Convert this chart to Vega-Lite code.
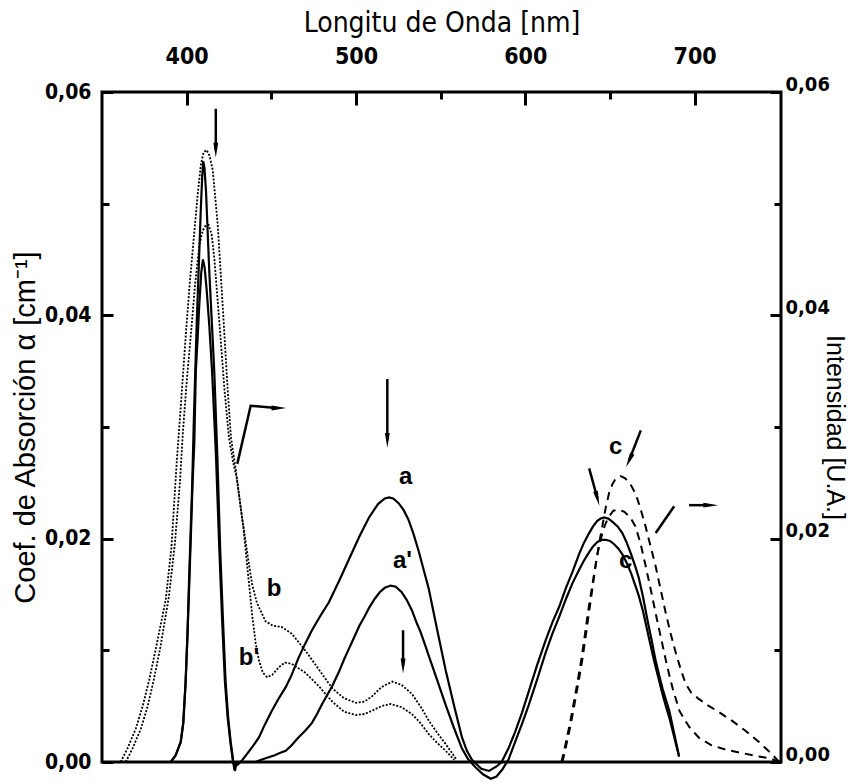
{
  "$schema": "https://vega.github.io/schema/vega-lite/v6.json",
  "width": 679,
  "height": 670,
  "autosize": "none",
  "padding": {"left": 102, "top": 92, "right": 76, "bottom": 21},
  "background": "white",
  "config": {
    "view": {"stroke": "black", "strokeWidth": 3},
    "axis": {"grid": false, "domain": false, "ticks": true, "labelFlush": false, "labelOverlap": false, "tickColor": "black", "tickWidth": 3, "labelColor": "black", "titleColor": "black"}
  },
  "datasets": {
    "curves": [
      {"s":"p1","nm":390.6,"v":0},{"s":"p1","nm":393.5,"v":0.0006},{"s":"p1","nm":396.5,"v":0.0018},{"s":"p1","nm":398,"v":0.0035},{"s":"p1","nm":399.4,"v":0.0072},{"s":"p1","nm":400.5,"v":0.0115},{"s":"p1","nm":401.4,"v":0.0162},{"s":"p1","nm":403.3,"v":0.025},{"s":"p1","nm":404.3,"v":0.031},{"s":"p1","nm":406.1,"v":0.04},{"s":"p1","nm":407.3,"v":0.045},{"s":"p1","nm":408.4,"v":0.0497},{"s":"p1","nm":409.2,"v":0.0525},{"s":"p1","nm":409.8,"v":0.0538},{"s":"p1","nm":410.5,"v":0.0532},{"s":"p1","nm":411.4,"v":0.0512},{"s":"p1","nm":413.4,"v":0.0438},{"s":"p1","nm":416.3,"v":0.035},{"s":"p1","nm":418.2,"v":0.027},{"s":"p1","nm":419.8,"v":0.019},{"s":"p1","nm":421.5,"v":0.0125},{"s":"p1","nm":423,"v":0.0072},{"s":"p1","nm":424.5,"v":0.004},{"s":"p1","nm":426,"v":0.0018},{"s":"p1","nm":427.5,"v":0.0001},{"s":"p1","nm":428.5,"v":-0.0008},{"s":"p1","nm":429.5,"v":0},
      {"s":"p2","nm":390.6,"v":0},{"s":"p2","nm":393.5,"v":0.0006},{"s":"p2","nm":396.5,"v":0.0018},{"s":"p2","nm":398,"v":0.0035},{"s":"p2","nm":399.4,"v":0.0072},{"s":"p2","nm":400.5,"v":0.0115},{"s":"p2","nm":401.6,"v":0.0162},{"s":"p2","nm":403.5,"v":0.025},{"s":"p2","nm":404.5,"v":0.0285},{"s":"p2","nm":405.4,"v":0.035},{"s":"p2","nm":406.5,"v":0.038},{"s":"p2","nm":407.4,"v":0.0408},{"s":"p2","nm":408.6,"v":0.0438},{"s":"p2","nm":409.6,"v":0.045},{"s":"p2","nm":410.6,"v":0.0443},{"s":"p2","nm":411.8,"v":0.0423},{"s":"p2","nm":413.4,"v":0.039},{"s":"p2","nm":415,"v":0.035},{"s":"p2","nm":417.3,"v":0.0275},{"s":"p2","nm":419.3,"v":0.019},{"s":"p2","nm":421,"v":0.0125},{"s":"p2","nm":422.6,"v":0.0072},{"s":"p2","nm":424.2,"v":0.004},{"s":"p2","nm":425.8,"v":0.0018},{"s":"p2","nm":427.3,"v":0.0001},{"s":"p2","nm":428.3,"v":-0.0007},{"s":"p2","nm":429.3,"v":0},
      {"s":"b","nm":361,"v":0},{"s":"b","nm":365,"v":0.0012},{"s":"b","nm":370,"v":0.003},{"s":"b","nm":374,"v":0.005},{"s":"b","nm":377.8,"v":0.0073},{"s":"b","nm":382,"v":0.0103},{"s":"b","nm":387.6,"v":0.0145},{"s":"b","nm":391,"v":0.0192},{"s":"b","nm":394.1,"v":0.0268},{"s":"b","nm":396.5,"v":0.0318},{"s":"b","nm":399.6,"v":0.0385},{"s":"b","nm":402,"v":0.0432},{"s":"b","nm":404.5,"v":0.0474},{"s":"b","nm":406.5,"v":0.0508},{"s":"b","nm":408.4,"v":0.0535},{"s":"b","nm":410,"v":0.0546},{"s":"b","nm":411.8,"v":0.0548},{"s":"b","nm":413.5,"v":0.0543},{"s":"b","nm":415.4,"v":0.053},{"s":"b","nm":418.3,"v":0.0482},{"s":"b","nm":421.3,"v":0.0408},{"s":"b","nm":424.2,"v":0.0334},{"s":"b","nm":426.2,"v":0.029},{"s":"b","nm":429,"v":0.0262},{"s":"b","nm":432.8,"v":0.0218},{"s":"b","nm":436,"v":0.0185},{"s":"b","nm":438.8,"v":0.0158},{"s":"b","nm":441.6,"v":0.0142},{"s":"b","nm":446.6,"v":0.0126},{"s":"b","nm":451,"v":0.0122},{"s":"b","nm":456,"v":0.0121},{"s":"b","nm":462,"v":0.0115},{"s":"b","nm":470,"v":0.01},{"s":"b","nm":478,"v":0.0083},{"s":"b","nm":486,"v":0.0066},{"s":"b","nm":493,"v":0.0057},{"s":"b","nm":500,"v":0.0053},{"s":"b","nm":505,"v":0.0054},{"s":"b","nm":509.6,"v":0.0059},{"s":"b","nm":515,"v":0.0067},{"s":"b","nm":521.4,"v":0.0072},{"s":"b","nm":527,"v":0.0069},{"s":"b","nm":533,"v":0.0061},{"s":"b","nm":538,"v":0.005},{"s":"b","nm":543,"v":0.0037},{"s":"b","nm":548,"v":0.0026},{"s":"b","nm":553,"v":0.0016},{"s":"b","nm":559,"v":0.0003},
      {"s":"b2","nm":364,"v":0},{"s":"b2","nm":368,"v":0.0012},{"s":"b2","nm":373,"v":0.003},{"s":"b2","nm":377,"v":0.005},{"s":"b2","nm":380.5,"v":0.0073},{"s":"b2","nm":384.5,"v":0.0103},{"s":"b2","nm":389.5,"v":0.0148},{"s":"b2","nm":393,"v":0.0195},{"s":"b2","nm":396,"v":0.025},{"s":"b2","nm":397.8,"v":0.0296},{"s":"b2","nm":400,"v":0.034},{"s":"b2","nm":402.6,"v":0.0385},{"s":"b2","nm":405,"v":0.0428},{"s":"b2","nm":407.5,"v":0.0463},{"s":"b2","nm":409.5,"v":0.0476},{"s":"b2","nm":411,"v":0.048},{"s":"b2","nm":413,"v":0.0481},{"s":"b2","nm":414.8,"v":0.0472},{"s":"b2","nm":416.4,"v":0.045},{"s":"b2","nm":419.3,"v":0.0394},{"s":"b2","nm":422.3,"v":0.0334},{"s":"b2","nm":425,"v":0.029},{"s":"b2","nm":427.5,"v":0.0268},{"s":"b2","nm":429.5,"v":0.0255},{"s":"b2","nm":433.5,"v":0.021},{"s":"b2","nm":436,"v":0.0172},{"s":"b2","nm":438.8,"v":0.013},{"s":"b2","nm":440.8,"v":0.0106},{"s":"b2","nm":442.7,"v":0.0091},{"s":"b2","nm":445,"v":0.008},{"s":"b2","nm":447.5,"v":0.0076},{"s":"b2","nm":450.5,"v":0.0078},{"s":"b2","nm":454.5,"v":0.0085},{"s":"b2","nm":458,"v":0.0089},{"s":"b2","nm":462,"v":0.0088},{"s":"b2","nm":466,"v":0.0084},{"s":"b2","nm":470,"v":0.008},{"s":"b2","nm":478,"v":0.0068},{"s":"b2","nm":486,"v":0.0054},{"s":"b2","nm":493,"v":0.0045},{"s":"b2","nm":500,"v":0.0042},{"s":"b2","nm":505,"v":0.0043},{"s":"b2","nm":509.6,"v":0.0046},{"s":"b2","nm":515,"v":0.005},{"s":"b2","nm":520.5,"v":0.0052},{"s":"b2","nm":527,"v":0.0049},{"s":"b2","nm":533,"v":0.0043},{"s":"b2","nm":538,"v":0.0035},{"s":"b2","nm":543,"v":0.0025},{"s":"b2","nm":548,"v":0.0017},{"s":"b2","nm":553,"v":0.001},{"s":"b2","nm":558,"v":0.0002},
      {"s":"a","nm":429.7,"v":-0.0003},{"s":"a","nm":433,"v":0.0002},{"s":"a","nm":436,"v":0.0008},{"s":"a","nm":439,"v":0.0014},{"s":"a","nm":442.7,"v":0.0022},{"s":"a","nm":446,"v":0.0033},{"s":"a","nm":450,"v":0.0045},{"s":"a","nm":454,"v":0.0056},{"s":"a","nm":458.5,"v":0.0067},{"s":"a","nm":462,"v":0.0078},{"s":"a","nm":466,"v":0.0093},{"s":"a","nm":470,"v":0.0106},{"s":"a","nm":474,"v":0.0118},{"s":"a","nm":479,"v":0.0131},{"s":"a","nm":484,"v":0.0143},{"s":"a","nm":490,"v":0.0162},{"s":"a","nm":496,"v":0.0182},{"s":"a","nm":502,"v":0.0202},{"s":"a","nm":507.7,"v":0.0219},{"s":"a","nm":513,"v":0.0231},{"s":"a","nm":517,"v":0.0236},{"s":"a","nm":519.5,"v":0.0237},{"s":"a","nm":522,"v":0.0236},{"s":"a","nm":525,"v":0.0232},{"s":"a","nm":528,"v":0.0226},{"s":"a","nm":531,"v":0.0217},{"s":"a","nm":534,"v":0.0204},{"s":"a","nm":537,"v":0.0189},{"s":"a","nm":540,"v":0.0172},{"s":"a","nm":543,"v":0.0155},{"s":"a","nm":548,"v":0.0118},{"s":"a","nm":553,"v":0.0082},{"s":"a","nm":558,"v":0.005},{"s":"a","nm":562.6,"v":0.0022},{"s":"a","nm":565.5,"v":0.001},{"s":"a","nm":568.5,"v":0.0002},{"s":"a","nm":574,"v":-0.0006},{"s":"a","nm":578.6,"v":-0.0008},{"s":"a","nm":583,"v":-0.0004},{"s":"a","nm":586,"v":0},{"s":"a","nm":590,"v":0.0012},{"s":"a","nm":594,"v":0.0027},{"s":"a","nm":598,"v":0.0044},{"s":"a","nm":602,"v":0.0063},{"s":"a","nm":607,"v":0.0087},{"s":"a","nm":612,"v":0.0109},{"s":"a","nm":616,"v":0.0125},{"s":"a","nm":620,"v":0.0139},{"s":"a","nm":624,"v":0.0156},{"s":"a","nm":627.8,"v":0.017},{"s":"a","nm":631.7,"v":0.0186},{"s":"a","nm":634.5,"v":0.0196},{"s":"a","nm":637.7,"v":0.0205},{"s":"a","nm":640,"v":0.0211},{"s":"a","nm":642.5,"v":0.0216},{"s":"a","nm":644.5,"v":0.0218},{"s":"a","nm":646.5,"v":0.0219},{"s":"a","nm":649,"v":0.0218},{"s":"a","nm":651.5,"v":0.0215},{"s":"a","nm":654.5,"v":0.0211},{"s":"a","nm":657.3,"v":0.0205},{"s":"a","nm":660,"v":0.0196},{"s":"a","nm":662.5,"v":0.0186},{"s":"a","nm":665,"v":0.0175},{"s":"a","nm":667,"v":0.0165},{"s":"a","nm":669.5,"v":0.0148},{"s":"a","nm":672,"v":0.0128},{"s":"a","nm":674.5,"v":0.011},{"s":"a","nm":676.8,"v":0.0092},{"s":"a","nm":679,"v":0.0078},{"s":"a","nm":681,"v":0.0066},{"s":"a","nm":683,"v":0.0056},{"s":"a","nm":685,"v":0.0046},{"s":"a","nm":687,"v":0.0032},{"s":"a","nm":689,"v":0.0018},{"s":"a","nm":690.8,"v":0.0005},
      {"s":"a2","nm":440.7,"v":0},{"s":"a2","nm":444,"v":0.0002},{"s":"a2","nm":448,"v":0.0004},{"s":"a2","nm":452,"v":0.0006},{"s":"a2","nm":455,"v":0.0008},{"s":"a2","nm":458.5,"v":0.001},{"s":"a2","nm":462,"v":0.0015},{"s":"a2","nm":466,"v":0.0022},{"s":"a2","nm":470,"v":0.0028},{"s":"a2","nm":474,"v":0.0035},{"s":"a2","nm":477,"v":0.0043},{"s":"a2","nm":480,"v":0.0052},{"s":"a2","nm":483,"v":0.006},{"s":"a2","nm":486,"v":0.0068},{"s":"a2","nm":490,"v":0.0081},{"s":"a2","nm":493,"v":0.0092},{"s":"a2","nm":496,"v":0.0102},{"s":"a2","nm":499,"v":0.0112},{"s":"a2","nm":502,"v":0.0122},{"s":"a2","nm":505,"v":0.013},{"s":"a2","nm":507.7,"v":0.0138},{"s":"a2","nm":511,"v":0.0146},{"s":"a2","nm":514,"v":0.0152},{"s":"a2","nm":517,"v":0.0156},{"s":"a2","nm":520.5,"v":0.0158},{"s":"a2","nm":523.5,"v":0.0157},{"s":"a2","nm":527,"v":0.0152},{"s":"a2","nm":530,"v":0.0145},{"s":"a2","nm":533,"v":0.0136},{"s":"a2","nm":536,"v":0.0124},{"s":"a2","nm":538,"v":0.0117},{"s":"a2","nm":541,"v":0.0104},{"s":"a2","nm":543,"v":0.0095},{"s":"a2","nm":548,"v":0.0073},{"s":"a2","nm":553,"v":0.0051},{"s":"a2","nm":558,"v":0.003},{"s":"a2","nm":562.6,"v":0.0012},{"s":"a2","nm":566,"v":0.0003},{"s":"a2","nm":570.7,"v":-0.0005},{"s":"a2","nm":575,"v":-0.0011},{"s":"a2","nm":579.6,"v":-0.0015},{"s":"a2","nm":583,"v":-0.0013},{"s":"a2","nm":586.3,"v":-0.0007},{"s":"a2","nm":590,"v":0.0002},{"s":"a2","nm":594,"v":0.0018},{"s":"a2","nm":598,"v":0.0034},{"s":"a2","nm":602,"v":0.0051},{"s":"a2","nm":607,"v":0.0074},{"s":"a2","nm":612,"v":0.0098},{"s":"a2","nm":616,"v":0.0115},{"s":"a2","nm":620,"v":0.013},{"s":"a2","nm":624,"v":0.0146},{"s":"a2","nm":627.8,"v":0.016},{"s":"a2","nm":631.7,"v":0.0172},{"s":"a2","nm":634.5,"v":0.018},{"s":"a2","nm":637.7,"v":0.0188},{"s":"a2","nm":640,"v":0.0193},{"s":"a2","nm":642.5,"v":0.0197},{"s":"a2","nm":645,"v":0.0199},{"s":"a2","nm":647.5,"v":0.0199},{"s":"a2","nm":650,"v":0.0198},{"s":"a2","nm":652.5,"v":0.0195},{"s":"a2","nm":655,"v":0.0191},{"s":"a2","nm":657.3,"v":0.0186},{"s":"a2","nm":660,"v":0.0178},{"s":"a2","nm":662.5,"v":0.0169},{"s":"a2","nm":665,"v":0.0158},{"s":"a2","nm":667,"v":0.0149},{"s":"a2","nm":669.5,"v":0.0135},{"s":"a2","nm":672,"v":0.0118},{"s":"a2","nm":674.5,"v":0.0101},{"s":"a2","nm":676.8,"v":0.0086},{"s":"a2","nm":679,"v":0.0073},{"s":"a2","nm":681,"v":0.0061},{"s":"a2","nm":683,"v":0.005},{"s":"a2","nm":685,"v":0.004},{"s":"a2","nm":687,"v":0.0028},{"s":"a2","nm":689,"v":0.0016},{"s":"a2","nm":690.8,"v":0.0005}
    ],
    "emission": [
      {"s":"c1","nm":621.9,"v":0},{"s":"c1","nm":623.5,"v":0.001},{"s":"c1","nm":624.9,"v":0.002},{"s":"c1","nm":627,"v":0.0035},{"s":"c1","nm":629.8,"v":0.0058},{"s":"c1","nm":631.8,"v":0.0075},{"s":"c1","nm":633.7,"v":0.0092},{"s":"c1","nm":635.7,"v":0.0113},{"s":"c1","nm":637.7,"v":0.0135},{"s":"c1","nm":639.7,"v":0.0156},{"s":"c1","nm":641.6,"v":0.0177},{"s":"c1","nm":643.6,"v":0.0196},{"s":"c1","nm":645.6,"v":0.0212},{"s":"c1","nm":647.5,"v":0.0228},{"s":"c1","nm":649.5,"v":0.0241},{"s":"c1","nm":651.5,"v":0.0249},{"s":"c1","nm":653.5,"v":0.0254},{"s":"c1","nm":656.3,"v":0.0256},{"s":"c1","nm":659,"v":0.0254},{"s":"c1","nm":662,"v":0.0249},{"s":"c1","nm":665.2,"v":0.024},{"s":"c1","nm":668,"v":0.0227},{"s":"c1","nm":671,"v":0.0211},{"s":"c1","nm":674,"v":0.0193},{"s":"c1","nm":677,"v":0.0175},{"s":"c1","nm":680,"v":0.0154},{"s":"c1","nm":683,"v":0.0133},{"s":"c1","nm":686,"v":0.0114},{"s":"c1","nm":689,"v":0.0097},{"s":"c1","nm":692,"v":0.0082},{"s":"c1","nm":694.7,"v":0.007},{"s":"c1","nm":698,"v":0.0062},{"s":"c1","nm":702,"v":0.0057},{"s":"c1","nm":706.5,"v":0.0052},{"s":"c1","nm":714,"v":0.0045},{"s":"c1","nm":722,"v":0.0037},{"s":"c1","nm":730,"v":0.0028},{"s":"c1","nm":738,"v":0.0018},{"s":"c1","nm":745,"v":0.0008},{"s":"c1","nm":750,"v":0},
      {"s":"c2","nm":621.3,"v":0},{"s":"c2","nm":622.9,"v":0.001},{"s":"c2","nm":624.3,"v":0.002},{"s":"c2","nm":626.4,"v":0.0035},{"s":"c2","nm":629.2,"v":0.0058},{"s":"c2","nm":631.2,"v":0.0075},{"s":"c2","nm":633.1,"v":0.0092},{"s":"c2","nm":635.1,"v":0.0113},{"s":"c2","nm":637.1,"v":0.0135},{"s":"c2","nm":639.1,"v":0.0154},{"s":"c2","nm":641,"v":0.0172},{"s":"c2","nm":643,"v":0.0189},{"s":"c2","nm":645,"v":0.0202},{"s":"c2","nm":647,"v":0.0212},{"s":"c2","nm":649,"v":0.0219},{"s":"c2","nm":652,"v":0.0225},{"s":"c2","nm":655.4,"v":0.0226},{"s":"c2","nm":658.5,"v":0.0224},{"s":"c2","nm":662,"v":0.0219},{"s":"c2","nm":665,"v":0.0211},{"s":"c2","nm":668,"v":0.0196},{"s":"c2","nm":671,"v":0.0176},{"s":"c2","nm":674,"v":0.0155},{"s":"c2","nm":677,"v":0.0133},{"s":"c2","nm":680,"v":0.0112},{"s":"c2","nm":683,"v":0.0091},{"s":"c2","nm":685,"v":0.0078},{"s":"c2","nm":687,"v":0.0066},{"s":"c2","nm":689,"v":0.0056},{"s":"c2","nm":691,"v":0.0046},{"s":"c2","nm":694,"v":0.0038},{"s":"c2","nm":697,"v":0.0031},{"s":"c2","nm":700,"v":0.0026},{"s":"c2","nm":703,"v":0.0021},{"s":"c2","nm":710,"v":0.0015},{"s":"c2","nm":718.5,"v":0.0011},{"s":"c2","nm":728,"v":0.0008},{"s":"c2","nm":738,"v":0.0005},{"s":"c2","nm":745,"v":0.0003},{"s":"c2","nm":750,"v":0}
    ],
    "labels": [
      {"t":"a","nm":529.4,"v":0.0255},{"t":"a'","nm":527.5,"v":0.018},{"t":"b","nm":451.6,"v":0.0155},{"t":"b'","nm":436.8,"v":0.0093},{"t":"c","nm":653.4,"v":0.0282},{"t":"c","nm":659.3,"v":0.018}
    ],
    "segments": [
      {"nm":417.2,"v":0.0585,"nm2":417.2,"v2":0.0548},
      {"nm":518.5,"v":0.0343,"nm2":518.5,"v2":0.0288},
      {"nm":527.8,"v":0.0118,"nm2":527.8,"v2":0.0086},
      {"nm":668.2,"v":0.0297,"nm2":661.3,"v2":0.027},
      {"nm":637.7,"v":0.0263,"nm2":642.6,"v2":0.0236},
      {"nm":677,"v":0.0205,"nm2":687.9,"v2":0.0229},
      {"nm":696.7,"v":0.023,"nm2":708,"v2":0.023}
    ],
    "bent": [
      {"i":0,"nm":429.9,"v":0.0267},{"i":1,"nm":437.8,"v":0.0319},{"i":2,"nm":453,"v":0.0317}
    ],
    "heads": [
      {"dir":"down","nm":417.2,"v":0.0548},{"dir":"down","nm":518.5,"v":0.0288},{"dir":"down","nm":527.8,"v":0.0086},
      {"dir":"right","nm":454.5,"v":0.0317},{"dir":"right","nm":709.5,"v":0.023},
      {"dir":"downleft","nm":661.3,"v":0.027},{"dir":"downright","nm":642.6,"v":0.0236}
    ]
  },
  "resolve": {"scale": {"y": "independent"}},
  "layer": [
    {
      "layer": [
        {
          "data": {"name": "curves"},
          "transform": [{"filter": "datum.s === 'p1' || datum.s === 'p2' || datum.s === 'a' || datum.s === 'a2'"}],
          "mark": {"type": "line", "color": "black", "strokeWidth": 2.2},
          "encoding": {
            "x": {"field": "nm", "type": "quantitative", "scale": {"domain": [350, 751], "nice": false},
              "axis": {"orient": "top", "title": "Longitu de Onda [nm]", "values": [400, 450, 500, 550, 600, 650, 700],
                "labelExpr": "datum.value % 100 === 0 ? datum.label : ''",
                "offset": -13, "tickSize": 13,
                "tickDash": {"condition": {"test": "datum.value % 100 === 0", "value": [20, 0]}, "value": [0, 6, 7, 30]},
                "labelPadding": 24,
                "labelFont": "'Liberation Sans Narrow', 'DejaVu Sans Condensed', 'Liberation Sans', sans-serif", "labelFontWeight": "bold", "labelFontSize": 23,
                "titleFont": "'Liberation Sans Narrow', 'DejaVu Sans Condensed', 'Liberation Sans', sans-serif", "titleFontWeight": "normal", "titleFontSize": 28, "titlePadding": 8}},
            "y": {"field": "v", "type": "quantitative", "scale": {"domain": [0, 0.06], "nice": false, "zero": false},
              "axis": {"orient": "left", "title": "Coef. de Absorción  α  [cm⁻¹]", "values": [0, 0.01, 0.02, 0.03, 0.04, 0.05, 0.06],
                "labelExpr": "round(datum.value * 100) % 2 === 0 ? replace(format(datum.value, '.2f'), '.', ',') : ''",
                "offset": -11, "tickSize": 11,
                "tickDash": {"condition": {"test": "round(datum.value * 100) % 2 === 0", "value": [20, 0]}, "value": [0, 4, 7, 30]},
                "labelPadding": 11, "labelOffset": 0,
                "labelFont": "'Liberation Sans Narrow', 'DejaVu Sans Condensed', 'Liberation Sans', sans-serif", "labelFontWeight": "bold", "labelFontSize": 21,
                "titleFont": "Liberation Sans", "titleFontWeight": "normal", "titleFontSize": 29,
                "titleX": -73, "titleY": 335, "titleAngle": 270, "titleBaseline": "bottom", "titleAlign": "center"}},
            "detail": {"field": "s"}
          }
        },
        {
          "data": {"name": "curves"},
          "transform": [{"filter": "datum.s === 'b' || datum.s === 'b2'"}],
          "mark": {"type": "line", "color": "black", "strokeWidth": 1.8, "strokeDash": [2, 1.6]},
          "encoding": {
            "x": {"field": "nm", "type": "quantitative"},
            "y": {"field": "v", "type": "quantitative"},
            "detail": {"field": "s"}
          }
        },
        {
          "data": {"name": "segments"},
          "mark": {"type": "rule", "color": "black", "strokeWidth": 2.5},
          "encoding": {
            "x": {"field": "nm", "type": "quantitative"},
            "y": {"field": "v", "type": "quantitative"},
            "x2": {"field": "nm2"},
            "y2": {"field": "v2"}
          }
        },
        {
          "data": {"name": "bent"},
          "mark": {"type": "line", "color": "black", "strokeWidth": 2.5},
          "encoding": {
            "x": {"field": "nm", "type": "quantitative"},
            "y": {"field": "v", "type": "quantitative"},
            "order": {"field": "i"}
          }
        },
        {
          "data": {"name": "heads"},
          "transform": [{"filter": "datum.dir === 'down'"}],
          "mark": {"type": "point", "filled": true, "color": "black", "opacity": 1, "size": 220, "shape": "M-0.33,-1L0.33,-1L0,1Z"},
          "encoding": {"x": {"field": "nm", "type": "quantitative"}, "y": {"field": "v", "type": "quantitative"}}
        },
        {
          "data": {"name": "heads"},
          "transform": [{"filter": "datum.dir === 'right'"}],
          "mark": {"type": "point", "filled": true, "color": "black", "opacity": 1, "size": 220, "shape": "M-1,-0.33L-1,0.33L1,0Z"},
          "encoding": {"x": {"field": "nm", "type": "quantitative"}, "y": {"field": "v", "type": "quantitative"}}
        },
        {
          "data": {"name": "heads"},
          "transform": [{"filter": "datum.dir === 'downleft'"}],
          "mark": {"type": "point", "filled": true, "color": "black", "opacity": 1, "size": 220, "angle": 25, "shape": "M-0.33,-1L0.33,-1L0,1Z"},
          "encoding": {"x": {"field": "nm", "type": "quantitative"}, "y": {"field": "v", "type": "quantitative"}}
        },
        {
          "data": {"name": "heads"},
          "transform": [{"filter": "datum.dir === 'downright'"}],
          "mark": {"type": "point", "filled": true, "color": "black", "opacity": 1, "size": 220, "angle": 345, "shape": "M-0.33,-1L0.33,-1L0,1Z"},
          "encoding": {"x": {"field": "nm", "type": "quantitative"}, "y": {"field": "v", "type": "quantitative"}}
        },
        {
          "data": {"name": "labels"},
          "mark": {"type": "text", "color": "black", "font": "Liberation Sans", "fontWeight": "bold", "fontSize": 24, "align": "center", "baseline": "middle"},
          "encoding": {
            "x": {"field": "nm", "type": "quantitative"},
            "y": {"field": "v", "type": "quantitative"},
            "text": {"field": "t"}
          }
        }
      ]
    },
    {
      "data": {"name": "emission"},
      "mark": {"type": "line", "color": "black", "strokeWidth": 2, "strokeDash": [8, 6]},
      "encoding": {
        "x": {"field": "nm", "type": "quantitative"},
        "y": {"field": "v", "type": "quantitative", "scale": {"domain": [0, 0.06], "nice": false, "zero": false},
          "axis": {"orient": "right", "title": "Intensidad [U.A.]", "values": [0, 0.01, 0.02, 0.03, 0.04, 0.05, 0.06],
            "labelExpr": "round(datum.value * 100) % 2 === 0 ? replace(format(datum.value, '.2f'), '.', ',') : ''",
            "offset": -11, "tickSize": 11,
            "tickDash": {"condition": {"test": "round(datum.value * 100) % 2 === 0", "value": [20, 0]}, "value": [0, 4, 7, 30]},
            "labelPadding": 4, "labelOffset": -8,
            "labelFont": "'Liberation Sans Narrow', 'DejaVu Sans Condensed', 'Liberation Sans', sans-serif", "labelFontWeight": "bold", "labelFontSize": 20,
            "titleFont": "Liberation Sans", "titleFontWeight": "normal", "titleFontSize": 25,
            "titleX": 51, "titleY": 335, "titleAngle": 90, "titleBaseline": "bottom", "titleAlign": "center"}},
        "detail": {"field": "s"}
      }
    }
  ]
}
